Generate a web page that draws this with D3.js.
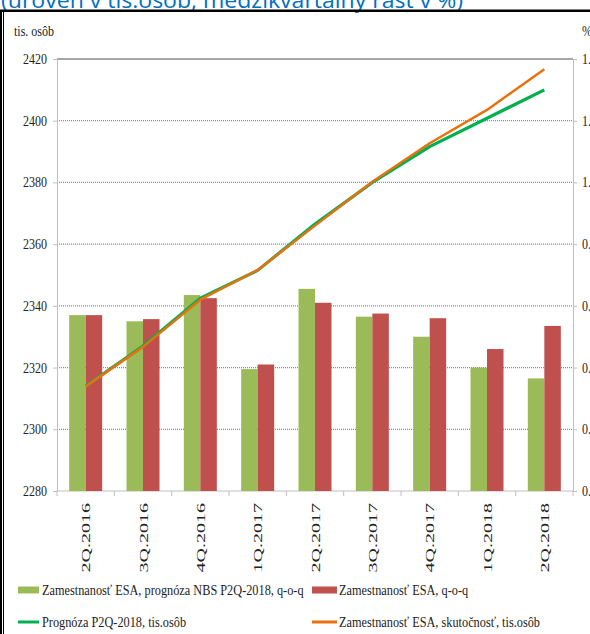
<!DOCTYPE html>
<html>
<head>
<meta charset="utf-8">
<script src="https://cdn.jsdelivr.net/npm/d3@7"></script>
<style>
  html, body { margin: 0; padding: 0; background: #fff; overflow: hidden; }
  svg { display: block; }
</style>
</head>
<body>
<svg id="chart" width="590" height="634"></svg>
<script>
// ---------- data ----------
const categories = ["2Q.2016","3Q.2016","4Q.2016","1Q.2017","2Q.2017","3Q.2017","4Q.2017","1Q.2018","2Q.2018"];
// bars, right axis (%), quarter-on-quarter growth
const forecastQoQ = [0.57, 0.55, 0.635, 0.395, 0.655, 0.565, 0.50, 0.40, 0.365];
const actualQoQ   = [0.57, 0.557, 0.625, 0.41, 0.61, 0.575, 0.56, 0.46, 0.535];
// lines, left axis (thousands of persons)
const forecastLevel = [2314, 2327, 2342.5, 2351.5, 2366.5, 2380, 2391.6, 2400.8, 2410];
const actualLevel   = [2313.9, 2326.7, 2342, 2351.6, 2366, 2380.2, 2392.7, 2403.5, 2416.7];
const leftTicks  = [2280, 2300, 2320, 2340, 2360, 2380, 2400, 2420];
const rightTicks = [0.0, 0.2, 0.4, 0.6, 0.8, 1.0, 1.2, 1.4];
const legendLabels = [
  "Zamestnanosť ESA, prognóza NBS P2Q-2018, q-o-q",
  "Zamestnanosť ESA, q-o-q",
  "Prognóza P2Q-2018, tis.osôb",
  "Zamestnanosť ESA, skutočnosť, tis.osôb"
];
const titleText = "(úroveň v tis.osôb, medzikvartálny rast v %)";

// ---------- layout ----------
const svg = d3.select("#chart");
const L = 57, R = 573, T = 59, B = 491;
const serif = "'Liberation Serif','Times New Roman',serif";
const C = { green: "#9BBB59", red: "#C0504D", gLine: "#00B050", oLine: "#E8710F", grid: "#8c8c8c", axis: "#bfbfbf", text: "#222" };

const x = d3.scaleBand().domain(categories).range([L, R]).padding(0);
const sub = d3.scaleBand().domain(["f","a"]).range([0, x.bandwidth()]).paddingInner(0).paddingOuter(0.737);
const yL = d3.scaleLinear().domain([2280, 2420]).range([B, T]);
const yR = d3.scaleLinear().domain([0, 1.4]).range([B, T]);

// helper for condensed serif text
function stext(g, str, tx, ty, size, anchor, sx) {
  return g.append("text")
    .attr("transform", `translate(${tx},${ty}) scale(${sx},1)`)
    .attr("text-anchor", anchor)
    .attr("font-family", serif)
    .attr("font-size", size)
    .attr("fill", C.text)
    .text(str);
}

// ---------- title (clipped at top) & frame ----------
svg.append("text")
  .attr("x", 1).attr("y", 7.5)
  .attr("font-family", "'Open Sans','Liberation Sans',sans-serif")
  .attr("font-size", 22)
  .attr("fill", "#0070C0")
  .attr("textLength", 462).attr("lengthAdjust", "spacingAndGlyphs")
  .text(titleText);

svg.append("line").attr("x1", 0).attr("x2", 590).attr("y1", 10.8).attr("y2", 10.8).attr("stroke", "#000").attr("stroke-width", 2.5);
svg.append("line").attr("x1", 1).attr("x2", 1).attr("y1", 10).attr("y2", 634).attr("stroke", "#000").attr("stroke-width", 2);
svg.append("line").attr("x1", 3.5).attr("x2", 3.5).attr("y1", 11).attr("y2", 634).attr("stroke", "#000").attr("stroke-width", 1);

// ---------- gridlines ----------
const grid = svg.append("g");
grid.selectAll("line").data(leftTicks.slice(1, -1)).join("line")
  .attr("x1", L).attr("x2", R)
  .attr("y1", d => yL(d)).attr("y2", d => yL(d))
  .attr("stroke", C.grid).attr("stroke-width", 1.2).attr("stroke-dasharray", "1,1");
grid.append("line").attr("x1", L).attr("x2", R).attr("y1", yL(2420)).attr("y2", yL(2420))
  .attr("stroke", "#a6a6a6").attr("stroke-width", 2);

// ---------- axes ----------
const leftAxis = svg.append("g").attr("transform", `translate(${L},0)`)
  .call(d3.axisLeft(yL).tickValues(leftTicks).tickSize(4).tickFormat(""));
leftAxis.selectAll("path,line").attr("stroke", C.axis);
leftTicks.forEach(v => stext(svg, d3.format("d")(v), 47, yL(v) + 5, 15, "end", 0.8));

const rightAxis = svg.append("g").attr("transform", `translate(${R},0)`)
  .call(d3.axisRight(yR).tickValues(rightTicks).tickSize(4).tickFormat(""));
rightAxis.selectAll("path,line").attr("stroke", C.axis);
rightTicks.forEach(v => stext(svg, d3.format(".1f")(v), 582, yR(v) + 5, 15, "start", 0.8));

const bottomAxis = svg.append("g").attr("transform", `translate(0,${B})`);
bottomAxis.append("line").attr("x1", L).attr("x2", R).attr("stroke", C.axis);
const bounds = categories.map(c => x(c)).concat([R]);
bottomAxis.selectAll("line.tk").data(bounds).join("line").attr("class", "tk")
  .attr("x1", d => d).attr("x2", d => d).attr("y1", 0).attr("y2", 5).attr("stroke", C.axis);

categories.forEach(c => {
  svg.append("text")
    .attr("transform", `translate(${x(c) + x.bandwidth() / 2},503) rotate(-90) scale(1,0.66)`)
    .attr("text-anchor", "end")
    .attr("dy", "0.35em")
    .attr("font-family", serif).attr("font-size", 20).attr("fill", C.text)
    .text(c);
});

stext(svg, "tis. osôb", 14, 36, 15, "start", 0.8);
stext(svg, "%", 582, 36, 15, "start", 0.8);

// ---------- bars ----------
const bars = svg.append("g");
bars.selectAll("rect.f").data(categories).join("rect").attr("class", "f")
  .attr("x", c => x(c) + sub("f")).attr("width", sub.bandwidth())
  .attr("y", (c, i) => yR(forecastQoQ[i])).attr("height", (c, i) => yR(0) - yR(forecastQoQ[i]))
  .attr("fill", C.green);
bars.selectAll("rect.a").data(categories).join("rect").attr("class", "a")
  .attr("x", c => x(c) + sub("a")).attr("width", sub.bandwidth())
  .attr("y", (c, i) => yR(actualQoQ[i])).attr("height", (c, i) => yR(0) - yR(actualQoQ[i]))
  .attr("fill", C.red);

// ---------- lines ----------
const line = d3.line().x((d, i) => x(categories[i]) + x.bandwidth() / 2).y(d => yL(d));
svg.append("path").datum(forecastLevel).attr("d", line)
  .attr("fill", "none").attr("stroke", C.gLine).attr("stroke-width", 3.2).attr("stroke-linejoin", "round");
svg.append("path").datum(actualLevel).attr("d", line)
  .attr("fill", "none").attr("stroke", C.oLine).attr("stroke-width", 2.5).attr("stroke-linejoin", "round");

// ---------- legend ----------
const lg = svg.append("g");
const lgX = [18, 312], lgY = [590, 622];
lg.append("rect").attr("x", lgX[0]).attr("y", lgY[0] - 3.5).attr("width", 21).attr("height", 7).attr("fill", C.green);
lg.append("rect").attr("x", lgX[1]).attr("y", lgY[0] - 3.5).attr("width", 25).attr("height", 7).attr("fill", C.red);
lg.append("line").attr("x1", lgX[0]).attr("x2", lgX[0] + 21).attr("y1", lgY[1]).attr("y2", lgY[1]).attr("stroke", C.gLine).attr("stroke-width", 3);
lg.append("line").attr("x1", lgX[1]).attr("x2", lgX[1] + 25).attr("y1", lgY[1]).attr("y2", lgY[1]).attr("stroke", C.oLine).attr("stroke-width", 3);
stext(lg, legendLabels[0], 42, lgY[0] + 5, 15, "start", 0.82);
stext(lg, legendLabels[1], 339, lgY[0] + 5, 15, "start", 0.82);
stext(lg, legendLabels[2], 42, lgY[1] + 5, 15, "start", 0.82);
stext(lg, legendLabels[3], 339, lgY[1] + 5, 15, "start", 0.82);
</script>
</body>
</html>
